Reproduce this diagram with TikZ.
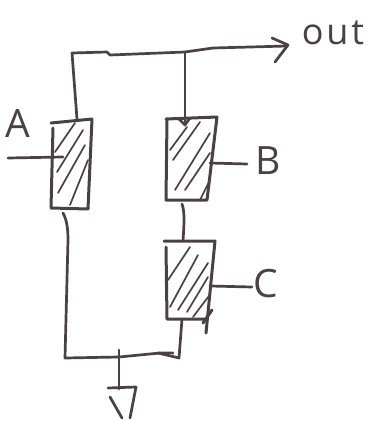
\documentclass[tikz,border=0pt]{standalone}
\usepackage{fontspec}
\setmainfont{Open Sans}
\definecolor{ink}{HTML}{4A4046}
\tikzset{
  wire/.style={draw=ink,line width=2.7pt,line cap=round,line join=round},
  outline/.style={draw=ink,line width=3pt,line cap=round,line join=round},
  hatch/.style={draw=ink,line width=1.7pt,line cap=round},
  hand/.style={text=ink,inner sep=0pt,font=\fontsize{39}{39}\selectfont},
  handsmall/.style={text=ink,inner sep=0pt,font=\addfontfeature{LetterSpace=8}\fontsize{36}{36}\selectfont}
}
\begin{document}
\begin{tikzpicture}[x=1pt,y=-1pt]
\useasboundingbox (0,0) rectangle (368,421);
% junctions and terminals
\coordinate (topL) at (72,53);
\coordinate (topJ) at (185,52);
\coordinate (outEnd) at (287,46);
\coordinate (Atop) at (77,119);
\coordinate (Btop) at (185,125);
\coordinate (Ain) at (8,158);
\coordinate (Aleft) at (63,157);
\coordinate (Bright) at (210,163);
\coordinate (Bend) at (247,164);
\coordinate (Bbot) at (182,204);
\coordinate (Ctop) at (183,241);
\coordinate (Cright) at (210,286);
\coordinate (Cend) at (252,287);
\coordinate (Cbot) at (182,319);
\coordinate (Abot) at (63,213);
\coordinate (botL) at (65,358);
\coordinate (botM) at (119,357);
\coordinate (botR) at (179,358);
\coordinate (gnd) at (119,389);
% labels
\node[hand] (la) at (18,124) {A};
\node[hand] (lb) at (268,161) {B};
\node[hand] (lc) at (266,284) {C};
\node[handsmall] (lout) at (333,33) {out};
% box A
\draw[outline] (51,123) -- (92,119) -- (88,209) -- (51,208) -- (53,128);
\draw[hatch] (55,152)--(75,123) (57,172)--(83,130) (58,193)--(85,145) (70,205)--(88,160);
% box B
\draw[outline] (166,119) -- (217,117) -- (207,200) -- (166,200) -- (167,119);
\draw[hatch] (170,150)--(187,127) (173,160)--(200,122) (175,190)--(210,133) (185,190)--(210,153) (200,200)--(210,180);
% box C
\draw[outline] (164,241) -- (215,241) -- (206,333);
\draw[outline] (166,247) -- (167,319) -- (206,319);
\draw[outline] (212,310) -- (203,323);
\draw[hatch] (168,280)--(190,247) (170,307)--(198,255) (178,310)--(208,263) (187,312)--(208,277) (193,317)--(208,297);
% wires
\draw[wire] (Atop) -- (topL) -- (107,52) -- (110,55) -- (topJ) -- (213,48) -- (outEnd);
\draw[wire] (272,38) -- (288,45) -- (275,62);
\draw[wire] (topJ) -- (Btop);
\draw[wire] (178,118) -- (Btop) -- (190,118);
\draw[wire] (Ain) -- (Aleft);
\draw[wire] (Bright) -- (Bend);
\draw[wire] (Bbot) .. controls (185,212) and (184,225) .. (Ctop);
\draw[wire] (Cright) -- (Cend);
\draw[wire] (Abot) .. controls (67,220) and (68,230) .. (68,240) -- (botL) -- (botM) -- (160,353) -- (173,353);
\draw[wire] (158,353) -- (botR) -- (Cbot);
\draw[wire] (119,350) -- (gnd);
\draw[wire] (108,388) -- (136,387) -- (130,418);
\draw[wire] (110,397) -- (122,418);
\end{tikzpicture}
\end{document}
